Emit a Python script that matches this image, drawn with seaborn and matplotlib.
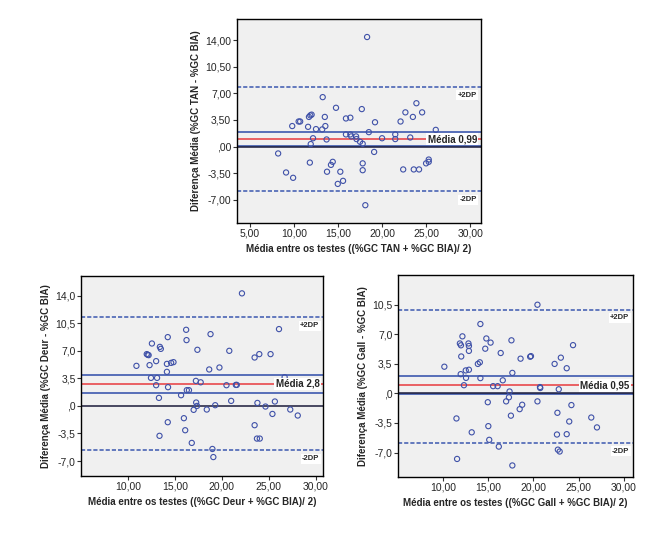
import numpy as np
import pandas as pd
import seaborn as sns
import matplotlib.pyplot as plt
from matplotlib.ticker import FuncFormatter

# TAN vs BIA
tan_mean = [18.3, 13.26, 14.77, 17.7, 23.9, 22.65, 24.55, 23.5, 22.1, 19.2,
            11.85, 12.0, 11.7, 13.5, 10.53, 10.7, 9.8, 11.6, 12.5, 13.2,
            13.56, 15.9, 16.4, 26.1, 18.5, 15.9, 16.4, 16.5, 17.05, 17.1,
            17.5, 17.8, 12.16, 13.7, 11.9, 20.0, 21.5, 21.5, 23.2, 25.8,
            8.2, 19.1, 11.8, 14.4, 14.2, 17.8, 17.8, 9.1, 9.9, 13.75,
            15.26, 14.97, 15.57, 22.4, 23.6, 24.2, 25.0, 25.3, 25.3, 18.1]
tan_diff = [14.4, 6.5, 5.1, 4.93, 5.7, 4.5, 4.5, 3.9, 3.3, 3.2,
            4.1, 4.2, 3.9, 3.9, 3.3, 3.3, 2.7, 2.6, 2.3, 2.26,
            2.7, 3.7, 3.8, 2.2, 1.9, 1.6, 1.6, 1.34, 1.34, 0.99,
            0.64, 0.37, 1.1, 0.94, 0.33, 1.1, 1.6, 0.99, 1.2, 1.3,
            -0.9, -0.7, -2.1, -2.0, -2.4, -2.2, -3.1, -3.4, -4.1, -3.3,
            -3.3, -4.9, -4.5, -3.0, -3.0, -3.0, -2.2, -1.7, -2.0, -7.7]
tan_media = 0.99
tan_ic = [0.08, 1.9]
tan_dp = [-5.86, 7.87]

# Deur vs BIA
deur_mean = [22.15, 26.1, 16.2, 16.24, 18.8, 14.24, 12.55, 13.4, 13.5, 17.4,
             20.8, 12.0, 12.2, 12.1, 23.5, 24.0, 25.2, 10.9, 12.3, 13.0,
             14.15, 14.6, 14.85, 14.15, 18.66, 19.75, 12.45, 13.1, 13.0, 14.27,
             17.24, 17.75, 20.5, 21.5, 21.6, 26.7, 13.3, 15.66, 16.27, 16.5,
             17.27, 17.36, 17.0, 18.4, 19.3, 21.0, 23.8, 24.66, 25.66, 25.4,
             27.3, 28.1, 14.24, 15.96, 16.1, 13.36, 16.8, 23.5, 23.75, 24.05,
             19.0, 19.1]
deur_diff = [14.3, 9.76, 9.67, 8.36, 9.12, 8.74, 7.93, 7.5, 7.25, 7.13,
             7.0, 6.58, 6.45, 6.5, 6.15, 6.58, 6.58, 5.09, 5.18, 5.69,
             5.34, 5.47, 5.56, 4.33, 4.63, 4.88, 3.56, 3.56, 2.63, 2.38,
             3.18, 3.0, 2.63, 2.67, 2.67, 3.65, 1.02, 1.36, 2.0, 2.0,
             0.43, 0.0, -0.5, -0.46, 0.09, 0.64, 0.38, -0.08, 0.56, -1.02,
             -0.46, -1.22, -2.07, -1.56, -3.09, -3.8, -4.7, -2.45, -4.15, -4.15,
             -5.47, -6.5]
deur_media = 2.8
deur_ic = [1.7, 3.9]
deur_dp = [-5.64, 11.24]

# Gall vs BIA
gall_mean = [20.44, 14.12, 12.13, 14.78, 15.25, 17.56, 11.85, 11.97, 12.8, 12.85,
             12.85, 14.66, 16.37, 24.38, 12.0, 18.57, 19.63, 19.72, 23.03, 14.06,
             13.84, 10.13, 22.34, 23.68, 12.5, 12.85, 11.94, 12.53, 14.12, 16.6,
             17.66, 12.3, 15.53, 16.03, 20.72, 20.75, 22.8, 25.7, 17.35, 17.28,
             16.97, 14.94, 20.44, 18.75, 24.2, 18.47, 22.65, 17.5, 11.47, 26.4,
             23.96, 15.0, 27.03, 13.16, 22.6, 23.68, 15.1, 16.16, 22.7, 22.9,
             11.54, 17.66]
gall_diff = [10.48, 8.2, 6.74, 6.49, 6.0, 6.27, 5.9, 5.68, 5.9, 5.6,
             5.02, 5.28, 4.77, 5.7, 4.36, 4.1, 4.33, 4.4, 4.22, 3.67,
             3.48, 3.15, 3.48, 2.97, 2.71, 2.79, 2.27, 1.83, 1.8, 1.54,
             2.42, 0.96, 0.85, 0.85, 0.74, 0.63, 0.48, 1.1, 0.22, -0.47,
             -0.95, -1.05, -0.95, -1.35, -1.39, -1.87, -2.3, -2.64, -2.97, -2.86,
             -3.33, -3.88, -4.03, -4.61, -4.87, -4.83, -5.5, -6.3, -6.66, -6.88,
             -7.76, -8.53]
gall_media = 0.95
gall_ic = [-0.1, 2.09]
gall_dp = [-5.86, 9.9]

sns.set_theme(style="white")
plt.rcParams['font.family'] = ['Liberation Sans', 'DejaVu Sans']

fig = plt.figure(figsize=(6.54, 5.36), dpi=100)
ax1 = fig.add_axes([0.362, 0.5845, 0.373, 0.3805])
ax2 = fig.add_axes([0.124, 0.112, 0.370, 0.373])
ax3 = fig.add_axes([0.6086, 0.110, 0.359, 0.377])

blue = '#4a64b4'
pt = '#3f51a8'


def fmt(dec):
    def f(v, pos):
        s = f"{v:.{dec}f}".replace('.', ',')
        if s.startswith('0,'):
            s = s[1:]
        if s.startswith('-0,'):
            s = s.replace('-0,', ',') if abs(v) < 1e-9 else '-' + s[2:]
        return s
    return FuncFormatter(f)


def bland(ax, xs, ys, media, ic, dp, nome, ydec, xlim, ylim):
    df = pd.DataFrame({'x': xs, 'y': ys})
    ax.set_facecolor('#f0f0f0')
    ax.axhline(dp[1], color=blue, lw=1.2, ls=(0, (2.5, 1.2)), zorder=1)
    ax.axhline(dp[0], color=blue, lw=1.2, ls=(0, (2.5, 1.2)), zorder=1)
    ax.axhline(ic[1], color=blue, lw=1.3, zorder=1)
    ax.axhline(ic[0], color=blue, lw=1.3, zorder=1)
    ax.axhline(0, color='#1a1a3a', lw=1.1, zorder=1)
    ax.axhline(media, color='#e8484c', lw=1.2, zorder=1)
    sns.scatterplot(data=df, x='x', y='y', ax=ax, marker='o', s=14,
                    facecolor='none', edgecolor=pt, linewidth=0.8, zorder=3)
    ax.set_xlim(*xlim)
    ax.set_ylim(*ylim)
    ax.set_yticks([-7, -3.5, 0, 3.5, 7, 10.5, 14])
    ax.set_xticks([5, 10, 15, 20, 25, 30])
    ax.yaxis.set_major_formatter(fmt(ydec))
    ax.xaxis.set_major_formatter(fmt(2))
    ax.tick_params(axis='both', which='major', direction='out', length=3,
                   width=0.8, labelsize=7.5, pad=1, color='#333333',
                   left=True, bottom=True)
    for s in ax.spines.values():
        s.set_color('black')
        s.set_linewidth(1.0)
    ax.set_ylabel(f"Diferença Média (%GC {nome} - %GC BIA)", fontsize=7,
                  fontweight='bold', labelpad=3)
    ax.set_xlabel(f"Média entre os testes ((%GC {nome} + %GC BIA)/ 2)",
                  fontsize=7, fontweight='bold', labelpad=4)
    box = dict(facecolor='white', edgecolor='none', pad=1)
    trans = ax.get_yaxis_transform()
    tm = f"{media:.2f}".replace('.', ',') if nome != 'Deur' else "2,8"
    ax.text(0.985, media, f"Média {tm}", transform=trans, ha='right',
            va='center', fontsize=7, fontweight='bold', bbox=box, zorder=4)
    off = (ylim[1] - ylim[0]) * 0.025
    ax.text(0.985, dp[1] - off, "+2DP", transform=trans, ha='right', va='top',
            fontsize=5.5, fontweight='bold', bbox=box, zorder=4)
    ax.text(0.985, dp[0] - off, "-2DP", transform=trans, ha='right', va='top',
            fontsize=5.5, fontweight='bold', bbox=box, zorder=4)


bland(ax1, tan_mean, tan_diff, tan_media, tan_ic, tan_dp, 'TAN', 2,
      (3.5, 31.2), (-10.0, 16.8))
bland(ax2, deur_mean, deur_diff, deur_media, deur_ic, deur_dp, 'Deur', 1,
      (8.8, 30.8), (-8.9, 16.5))
bland(ax3, gall_mean, gall_diff, gall_media, gall_ic, gall_dp, 'Gall', 1,
      (8.9, 31.0), (-9.9, 12.3))
ax3.set_yticks([-7, -3.5, 0, 3.5, 7, 10.5])
ax2.set_xticks([10, 15, 20, 25, 30])
ax3.set_xticks([10, 15, 20, 25, 30])

fig.savefig('out.png', dpi=100)
